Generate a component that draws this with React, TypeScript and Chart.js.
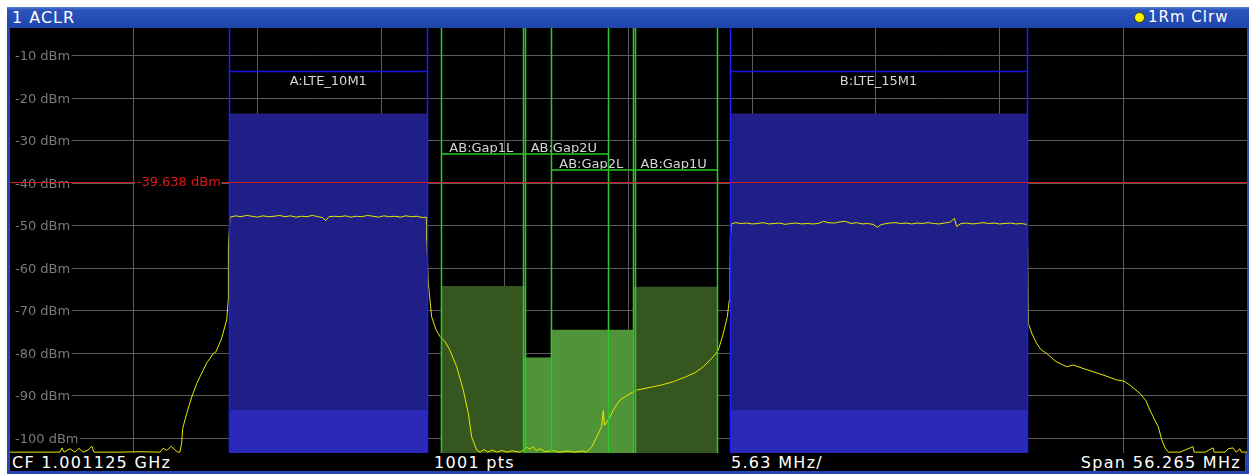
import React, { useEffect, useRef } from 'react';
import { Chart, registerables } from 'chart.js';

Chart.register(...registerables);

// ---- instrument settings ----
const centerFreqMHz = 1001.125;
const spanMHz = 56.265;
const sweepPoints = 1001;
const refLevelDbm = -3.5;
const rangeDb = 100;
const xDivisions = 10;
const yTickValues = [-10, -20, -30, -40, -50, -60, -70, -80, -90, -100];

// ---- TX channels ----
const channelNames = ['A:LTE_10M1', 'B:LTE_15M1'];
const channelCentersMHz = [987.47, 1012.5];
const channelBandwidthsMHz = [9, 13.5];
const channelPowersDbm = [-23.6, -23.6];
const channelLowerBandDbm = [-93.4, -93.4];

// ---- gap channels ----
const gapNames = ['AB:Gap1L', 'AB:Gap2U', 'AB:Gap2L', 'AB:Gap1U'];
const gapCentersMHz = [994.5, 998.25, 999.5, 1003.25];
const gapBandwidthsMHz = [3.84, 3.84, 3.84, 3.84];
const gapPowersDbm = [-64.2, -81.0, -74.5, -64.4];
const gapLabelRow = [0, 0, 1, 1];

// ---- limit line ----
const limitLineDbm = -39.638;

// ---- trace 1 (Clear/Write) ----
const traceFreqMHz = [
  972.99, 974.36, 975.27, 975.36, 975.45, 975.72, 975.95, 976.13, 976.31, 976.54, 976.72, 976.81,
  978.0, 978.9, 979.82, 979.95, 980.13, 980.32, 980.5, 980.63, 980.72, 980.8, 980.85, 981.03,
  981.26, 981.49, 981.64, 981.94, 982.24, 982.36, 982.62, 982.85, 982.92, 982.925,
  983.0, 983.25, 983.5, 983.75, 984.0, 984.25, 984.5, 984.75, 985.0, 985.25, 985.5, 985.75,
  986.0, 986.25, 986.5, 986.75, 987.0, 987.2, 987.35, 987.5, 987.75, 988.0, 988.25, 988.5,
  988.75, 989.0, 989.25, 989.5, 989.75, 990.0, 990.25, 990.5, 990.75, 991.0, 991.25, 991.5,
  991.75, 991.93, 991.95, 992.02, 992.064, 992.17, 992.37, 992.55, 992.78, 993.0, 993.31, 993.61,
  993.84, 993.99, 994.22, 994.37, 994.55, 994.73, 994.92, 995.14, 995.37, 995.6, 995.83, 996.19,
  996.51, 996.65, 996.78, 996.92, 997.1, 997.33, 997.65, 998.01, 998.37, 998.69, 999.01, 999.22,
  999.45, 999.68, 999.9, 999.98, 1000.03, 1000.21, 1000.43, 1000.74, 1001.2, 1001.5, 1001.88, 1002.26,
  1002.7, 1003.17, 1003.77, 1004.15, 1004.53, 1004.99, 1005.21, 1005.44, 1005.62, 1005.71, 1005.74, 1005.76,
  1005.8, 1006.0, 1006.25, 1006.5, 1006.75, 1007.0, 1007.25, 1007.5, 1007.75, 1008.0, 1008.25, 1008.5,
  1008.75, 1009.0, 1009.25, 1009.5, 1009.75, 1010.0, 1010.2, 1010.5, 1010.75, 1011.0, 1011.25, 1011.5,
  1011.75, 1012.0, 1012.25, 1012.45, 1012.6, 1012.75, 1013.0, 1013.25, 1013.5, 1013.75, 1014.0, 1014.25,
  1014.5, 1014.75, 1015.0, 1015.25, 1015.5, 1015.75, 1015.95, 1016.05, 1016.25, 1016.5, 1016.75, 1017.0,
  1017.25, 1017.5, 1017.75, 1018.0, 1018.25, 1018.5, 1018.75, 1019.0, 1019.2, 1019.27, 1019.31, 1019.48,
  1019.69, 1019.89, 1020.15, 1020.57, 1021.06, 1021.36, 1021.8, 1022.27, 1022.8, 1023.33, 1023.66, 1023.93,
  1024.39, 1024.66, 1024.84, 1025.07, 1025.22, 1025.38, 1025.53, 1025.68, 1026.21, 1026.8, 1026.85, 1027.35,
  1027.71, 1027.76, 1028.26, 1028.4, 1028.62, 1028.76, 1028.94, 1029.0, 1029.26,
];
const traceLevelDbm = [
  -103.3, -103.3, -103.3, -102.3, -103.3, -102.5, -103.3, -102.4, -103.3, -102.8, -101.9, -103.3,
  -103.3, -103.2, -103.3, -102.4, -102.9, -101.9, -102.8, -103.3, -103.3, -101.2, -97.7, -94.2,
  -90.3, -87.1, -85.5, -82.3, -80.1, -79.7, -76.5, -72.1, -67.5, -55.0,
  -48.0, -47.7, -47.9, -47.6, -47.8, -48.0, -47.7, -47.9, -47.8, -47.6, -47.9, -47.7,
  -48.0, -47.8, -47.9, -47.6, -47.9, -48.1, -48.8, -47.9, -47.8, -47.9, -47.7, -48.0,
  -47.8, -47.9, -47.6, -47.8, -48.0, -47.7, -47.9, -47.8, -48.0, -47.7, -47.9, -47.8,
  -48.1, -48.0, -53.4, -63.5, -65.9, -71.4, -74.5, -76.1, -77.3, -79.3, -83.2, -88.7,
  -94.2, -99.7, -102.8, -103.3, -102.7, -103.3, -102.8, -103.3, -102.9, -103.3, -103.0, -103.3,
  -102.2, -102.6, -102.0, -102.9, -102.5, -103.2, -102.9, -103.3, -103.0, -103.3, -103.0, -103.3,
  -102.1, -99.7, -97.3, -93.5, -97.0, -95.7, -93.4, -91.0, -89.5, -88.7, -88.3, -87.9,
  -87.4, -86.7, -85.5, -84.6, -83.2, -80.8, -79.3, -75.3, -71.4, -67.5, -61.2, -52.7,
  -49.6, -49.3, -49.5, -49.4, -49.6, -49.5, -49.3, -49.6, -49.5, -49.4, -49.7, -49.5,
  -49.4, -49.6, -49.5, -49.6, -49.5, -49.0, -49.3, -49.4, -49.1, -49.0, -49.5, -49.3,
  -49.6, -49.5, -49.7, -50.4, -49.8, -49.6, -49.4, -49.3, -49.5, -49.4, -49.6, -49.4,
  -49.5, -49.3, -49.5, -49.6, -49.4, -49.2, -48.3, -50.2, -49.5, -49.4, -49.6, -49.5,
  -49.3, -49.5, -49.4, -49.6, -49.5, -49.4, -49.6, -49.5, -49.7, -49.6, -73.0, -75.5,
  -77.7, -79.2, -80.1, -82.0, -83.2, -82.8, -83.6, -84.4, -85.3, -86.3, -86.6, -87.5,
  -89.5, -91.2, -93.4, -95.8, -97.3, -100.4, -102.3, -103.3, -103.3, -102.0, -103.3, -103.3,
  -102.3, -103.3, -103.3, -102.5, -102.3, -103.3, -102.5, -103.3, -103.3,
];

// ---- styles ----
const gridColor = '#5c5c5c';
const channelFill = '#1f1f87';
const channelLowerFill = '#2a2ab6';
const channelEdgeColor = '#1e1eff';
const channelLabelLineColor = '#1414e0';
const gapFillColors = ['#35561f', '#4f9438', '#4f9438', '#35561f'];
const gapEdgeColor = '#2cc82c';
const gapRowLineColor = '#1e9a1e';
const traceColor = '#e8e800';
const limitColor = '#c81e1e';
const limitTextColor = '#e01616';
const edgeWidth = 1.5;
const channelLabelLineDbm = -13.6;
const gapLabelRowDbm = [-33.1, -36.85];

const xMin = centerFreqMHz - spanMHz / 2;
const xMax = centerFreqMHz + spanMHz / 2;
const yMax = refLevelDbm;
const yMin = refLevelDbm - rangeDb;

function rectDataset(x0: number, x1: number, top: number, color: string) {
  return {
    data: [{ x: x0, y: top }, { x: x1, y: top }],
    borderColor: 'rgba(0,0,0,0)',
    borderWidth: 0,
    backgroundColor: color,
    fill: 'start',
    pointRadius: 0,
  };
}

// lines placed on pixel centres through the chart scales
function vLine(ctx: any, area: any, px: number, color: string, width: number) {
  const x = width < 2 ? Math.round(px) + 0.5 : Math.round(px);
  ctx.strokeStyle = color;
  ctx.lineWidth = width;
  ctx.beginPath();
  ctx.moveTo(x, area.top);
  ctx.lineTo(x, area.bottom);
  ctx.stroke();
}
function hLine(ctx: any, x0: number, x1: number, py: number, color: string, width: number) {
  const y = width < 2 ? Math.round(py) + 0.5 : Math.round(py);
  ctx.strokeStyle = color;
  ctx.lineWidth = width;
  ctx.beginPath();
  ctx.moveTo(Math.round(x0), y);
  ctx.lineTo(Math.round(x1), y);
  ctx.stroke();
}

const overlayPlugin = {
  id: 'aclrOverlay',
  beforeDatasetsDraw(chart: any) {
    const { ctx, chartArea, scales } = chart;
    const xs = scales.x;
    const ys = scales.y;
    ctx.save();
    ctx.font = '13px "DejaVu Sans"';
    ctx.textBaseline = 'alphabetic';
    ctx.textAlign = 'left';
    ys.ticks.forEach((t: any) => {
      const py = ys.getPixelForValue(t.value);
      const label = `${t.value} dBm`;
      const w = ctx.measureText(label).width;
      ctx.fillStyle = '#000';
      ctx.fillRect(chartArea.left, py - 7, 5 + w + 1.5, 14);
      ctx.fillStyle = '#7a7a7a';
      ctx.fillText(label, chartArea.left + 5, py + 4.5);
    });
    ctx.textAlign = 'center';
    ctx.fillStyle = '#d6d6d6';
    channelNames.forEach((name, i) => {
      const px = xs.getPixelForValue(channelCentersMHz[i]);
      const py = ys.getPixelForValue(channelLabelLineDbm);
      ctx.fillText(name, px, py + 14);
    });
    gapNames.forEach((name, i) => {
      const px = xs.getPixelForValue(gapCentersMHz[i]);
      const py = ys.getPixelForValue(gapLabelRowDbm[gapLabelRow[i]]);
      ctx.fillText(name, px - 1.5, py - 2);
    });
    ctx.restore();
  },
  afterDatasetsDraw(chart: any) {
    const { ctx, chartArea, scales } = chart;
    const xs = scales.x;
    const ys = scales.y;
    ctx.save();
    channelNames.forEach((_, i) => {
      const x0 = xs.getPixelForValue(channelCentersMHz[i] - channelBandwidthsMHz[i] / 2);
      const x1 = xs.getPixelForValue(channelCentersMHz[i] + channelBandwidthsMHz[i] / 2);
      hLine(ctx, x0, x1, ys.getPixelForValue(channelLabelLineDbm), channelLabelLineColor, edgeWidth);
    });
    gapNames.forEach((_, i) => {
      const x0 = xs.getPixelForValue(gapCentersMHz[i] - gapBandwidthsMHz[i] / 2);
      const x1 = xs.getPixelForValue(gapCentersMHz[i] + gapBandwidthsMHz[i] / 2);
      hLine(ctx, x0, x1, ys.getPixelForValue(gapLabelRowDbm[gapLabelRow[i]]), gapRowLineColor, 2);
    });
    gapNames.forEach((_, i) => {
      vLine(ctx, chartArea, xs.getPixelForValue(gapCentersMHz[i] - gapBandwidthsMHz[i] / 2), gapEdgeColor, edgeWidth);
      vLine(ctx, chartArea, xs.getPixelForValue(gapCentersMHz[i] + gapBandwidthsMHz[i] / 2), gapEdgeColor, edgeWidth);
    });
    channelNames.forEach((_, i) => {
      vLine(ctx, chartArea, xs.getPixelForValue(channelCentersMHz[i] - channelBandwidthsMHz[i] / 2), channelEdgeColor, edgeWidth);
      vLine(ctx, chartArea, xs.getPixelForValue(channelCentersMHz[i] + channelBandwidthsMHz[i] / 2), channelEdgeColor, edgeWidth);
    });
    hLine(ctx, chartArea.left, chartArea.right, ys.getPixelForValue(limitLineDbm), limitColor, 1.2);

    ctx.font = '13px "DejaVu Sans"';
    ctx.textAlign = 'right';
    ctx.textBaseline = 'alphabetic';
    const label = `${limitLineDbm.toFixed(3)} dBm`;
    const w = ctx.measureText(label).width;
    const right = xs.getPixelForValue(channelCentersMHz[0] - channelBandwidthsMHz[0] / 2) - 8.5;
    const py = ys.getPixelForValue(limitLineDbm);
    ctx.fillStyle = '#000';
    ctx.fillRect(right - w - 1.5, py - 7, w + 2, 14);
    ctx.fillStyle = limitTextColor;
    ctx.fillText(label, right, py + 4.7);
    ctx.restore();
  },
};

export default function App() {
  const canvasRef = useRef<HTMLCanvasElement>(null);

  useEffect(() => {
    if (!canvasRef.current) return;
    const layers: any[] = [];
    // channel bars
    channelNames.forEach((_, i) => {
      const x0 = channelCentersMHz[i] - channelBandwidthsMHz[i] / 2;
      const x1 = channelCentersMHz[i] + channelBandwidthsMHz[i] / 2;
      layers.push(rectDataset(x0, x1, channelPowersDbm[i], channelFill));
      layers.push(rectDataset(x0, x1, channelLowerBandDbm[i], channelLowerFill));
    });
    // gap bars
    gapNames.forEach((_, i) => {
      const x0 = gapCentersMHz[i] - gapBandwidthsMHz[i] / 2;
      const x1 = gapCentersMHz[i] + gapBandwidthsMHz[i] / 2;
      layers.push(rectDataset(x0, x1, gapPowersDbm[i], gapFillColors[i]));
    });
    // trace (last so it becomes dataset 0, drawn on top)
    layers.push({
      data: traceFreqMHz.map((f, i) => ({ x: f, y: traceLevelDbm[i] })),
      borderColor: traceColor,
      borderWidth: 1,
      fill: false,
      pointRadius: 0,
      tension: 0,
    });

    const datasets = layers.slice().reverse();

    const gridTicks = Array.from({ length: xDivisions - 1 }, (_, k) => xMin + ((k + 1) * spanMHz) / xDivisions);

    const chart = new Chart(canvasRef.current, {
      type: 'line',
      data: { datasets },
      options: {
        animation: false,
        responsive: false,
        maintainAspectRatio: false,
        devicePixelRatio: 1,
        events: [],
        layout: { padding: 0 },
        plugins: { legend: { display: false }, tooltip: { enabled: false } },
        scales: {
          x: {
            type: 'linear',
            min: xMin,
            max: xMax,
            ticks: { display: false },
            grid: { color: gridColor, drawTicks: false, lineWidth: 1 },
            border: { display: false },
            afterBuildTicks: (scale: any) => {
              scale.ticks = gridTicks.map((v) => ({ value: v }));
            },
          },
          y: {
            type: 'linear',
            min: yMin,
            max: yMax,
            ticks: { display: false },
            grid: { color: gridColor, drawTicks: false, lineWidth: 1 },
            border: { display: false },
            afterBuildTicks: (scale: any) => {
              scale.ticks = yTickValues.map((v) => ({ value: v }));
            },
          },
        },
      } as any,
      plugins: [overlayPlugin as any],
    });
    return () => chart.destroy();
  }, []);

  const statusFont: React.CSSProperties = {
    position: 'absolute',
    top: 453,
    height: 19,
    lineHeight: '19px',
    color: '#ffffff',
    font: '16px "DejaVu Sans"',
    letterSpacing: '1.3px',
    whiteSpace: 'nowrap',
  };

  return (
    <div style={{ position: 'absolute', left: 0, top: 0, width: 1249, height: 474, background: '#ffffff', overflow: 'hidden' }}>
      <div style={{ position: 'absolute', left: 7, top: 7, width: 1242, height: 467, background: '#2447b3' }} />
      <div
        style={{
          position: 'absolute',
          left: 7,
          top: 7,
          width: 1242,
          height: 21,
          background: 'linear-gradient(to bottom, #5a80d8 0px, #2a52bb 3px, #1f46ac 21px)',
        }}
      />
      <div style={{ position: 'absolute', left: 12, top: 8, height: 21, lineHeight: '21px', color: '#ffffff', font: '16px "DejaVu Sans"', letterSpacing: '1px', whiteSpace: 'nowrap' }}>
        1 ACLR
      </div>
      <div
        style={{
          position: 'absolute',
          left: 1134,
          top: 12,
          width: 9,
          height: 9,
          borderRadius: '50%',
          background: '#f2f200',
          border: '1px solid #3a3a10',
        }}
      />
      <div style={{ position: 'absolute', left: 1148, top: 8, height: 21, lineHeight: '21px', color: '#ffffff', font: '15px "DejaVu Sans"', letterSpacing: '1px', whiteSpace: 'nowrap' }}>
        1Rm Clrw
      </div>
      <canvas ref={canvasRef} width={1237} height={425} style={{ position: 'absolute', left: 10, top: 28, width: 1237, height: 425, background: '#000', display: 'block' }} />
      <div style={{ position: 'absolute', left: 10, top: 453, width: 1235, height: 18, background: '#000' }} />
      <div style={{ ...statusFont, left: 12 }}>{`CF ${(centerFreqMHz / 1000).toFixed(6)} GHz`}</div>
      <div style={{ ...statusFont, left: 434 }}>{`${sweepPoints} pts`}</div>
      <div style={{ ...statusFont, left: 731 }}>{`${(spanMHz / xDivisions).toFixed(2)} MHz/`}</div>
      <div style={{ ...statusFont, right: 1249 - 1241, textAlign: 'right' }}>{`Span ${spanMHz.toFixed(3)} MHz`}</div>
    </div>
  );
}
